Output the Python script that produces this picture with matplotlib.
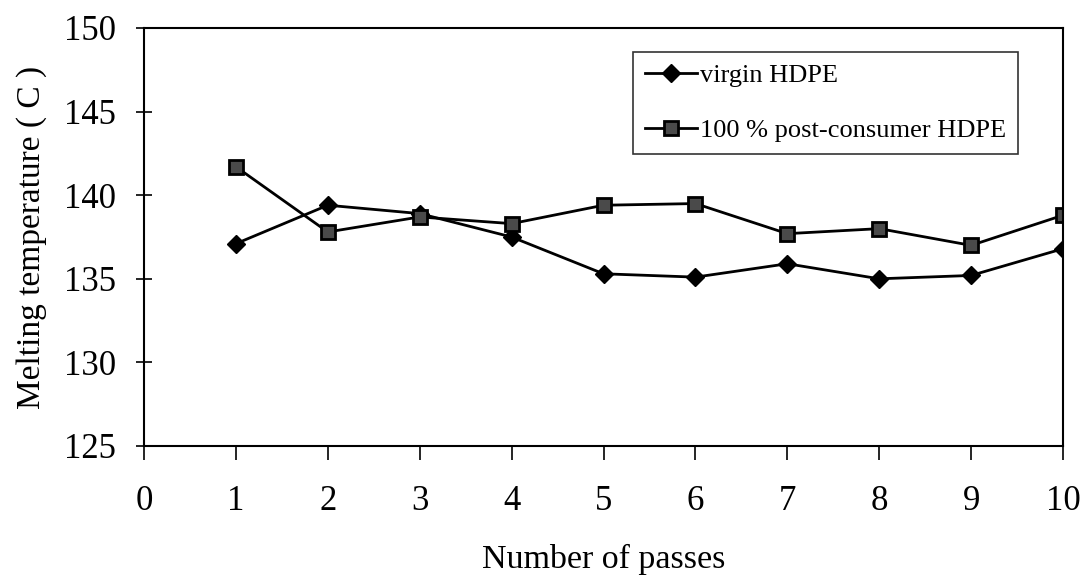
import matplotlib
matplotlib.use("Agg")
import matplotlib.pyplot as plt

passes = [1, 2, 3, 4, 5, 6, 7, 8, 9, 10]
virgin = [137.1, 139.4, 138.9, 137.5, 135.3, 135.1, 135.9, 135.0, 135.2, 136.8]
post_consumer = [141.7, 137.8, 138.7, 138.3, 139.4, 139.5, 137.7, 138.0, 137.0, 138.8]

plt.rcParams['font.family'] = ['Liberation Serif', 'DejaVu Serif']

fig = plt.figure(figsize=(10.8, 5.79), dpi=100)
ax = fig.add_axes([144 / 1080, 1 - 446 / 579, (1063 - 144) / 1080, (446 - 28) / 579])

ax.plot(passes, virgin, color='black', lw=2, marker='D', ms=9, mfc='black',
        mec='black', label='virgin HDPE')
ax.plot(passes, post_consumer, color='black', lw=2, marker='s', ms=10, mfc='#4a4a4a',
        mec='black', mew=2, label='100 % post-consumer HDPE')

ax.set_xlim(0, 10)
ax.set_ylim(125, 150)
ax.set_xticks(range(0, 11))
ax.set_yticks(range(125, 151, 5))
ax.tick_params(width=1.2, labelsize=25)
ax.tick_params(axis='x', direction='out', length=10, pad=18)
ax.tick_params(axis='y', direction='inout', length=12, pad=14)
for s in ax.spines.values():
    s.set_linewidth(1.5)

ax.set_xlabel('Number of passes', fontsize=24.5, labelpad=19)
ax.set_ylabel('Melting temperature ( C )', fontsize=24, labelpad=12)

leg = ax.legend(loc='upper right', bbox_to_anchor=(0.951, 0.9426), fontsize=19,
                frameon=True, fancybox=False, edgecolor='black', handlelength=2.0,
                handletextpad=0.1, labelspacing=1.2, borderpad=0.45, borderaxespad=0)
leg.get_frame().set_linewidth(1.2)

fig.savefig('out.png', dpi=100)
